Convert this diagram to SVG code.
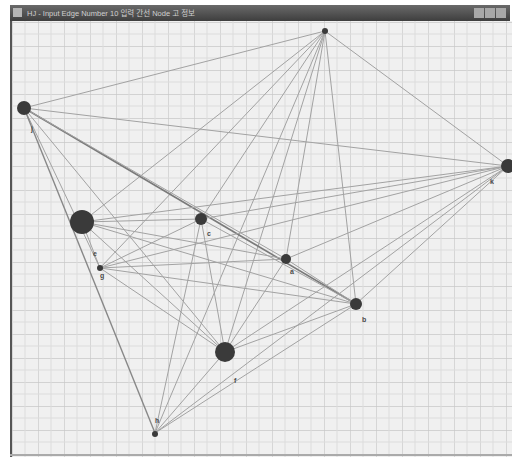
<svg xmlns="http://www.w3.org/2000/svg" width="512" height="457" viewBox="0 0 512 457">
<defs>
<pattern id="grid" x="12" y="22" width="26" height="24" patternUnits="userSpaceOnUse">
<rect width="26" height="24" fill="#f0f0f0"/>
<path d="M0 0V24M0 0H26" stroke="#c8c8c8" stroke-width="1.3" fill="none"/>
<path d="M13 0V24M0 12H26" stroke="#dcdcdc" stroke-width="1" fill="none"/>
</pattern>
<linearGradient id="tb" x1="0" y1="0" x2="0" y2="1">
<stop offset="0" stop-color="#6a6a6a"/>
<stop offset="1" stop-color="#3e3e3e"/>
</linearGradient>
</defs>
<style>
.e{stroke:#a2a2a2;stroke-width:1;fill:none}
.n{fill:#3a3a3a}
.l{font-family:"Liberation Sans",sans-serif;font-size:7px;font-weight:bold;fill:#4a4a4a}
.t{font-family:"Liberation Sans","Noto Sans CJK KR",sans-serif;font-size:7.5px;fill:#cfcfcf}
</style>
<rect width="512" height="457" fill="#ffffff"/>
<g id="window">
<rect x="10" y="21" width="502" height="436" fill="url(#grid)"/>
<line x1="11" y1="21" x2="11" y2="457" stroke="#555" stroke-width="2"/>
<line x1="10" y1="455" x2="512" y2="455" stroke="#aaa" stroke-width="2"/>
<rect x="10" y="5" width="500" height="16" fill="url(#tb)"/>
<rect x="13" y="8" width="9" height="9" fill="#b5b5b5"/>
<text class="t" x="27" y="16">HJ - Input Edge Number 10 입력 간선 Node 고 정보</text>
<rect x="474" y="8" width="10" height="10" fill="#a8a8a8"/>
<rect x="485" y="8" width="10" height="10" fill="#a8a8a8"/>
<rect x="496" y="8" width="10" height="10" fill="#a8a8a8"/>
</g>
<g id="edges">
<line class="e" x1="325" y1="31" x2="24" y2="108"/>
<line class="e" x1="325" y1="31" x2="508" y2="166"/>
<line class="e" x1="325" y1="31" x2="82" y2="222"/>
<line class="e" x1="325" y1="31" x2="100" y2="268"/>
<line class="e" x1="325" y1="31" x2="201" y2="219"/>
<line class="e" x1="325" y1="31" x2="286" y2="259"/>
<line class="e" x1="325" y1="31" x2="356" y2="304"/>
<line class="e" x1="325" y1="31" x2="225" y2="352"/>
<line class="e" x1="325" y1="31" x2="155" y2="433"/>
<line class="e" x1="24" y1="108" x2="508" y2="166"/>
<line class="e" x1="24" y1="108" x2="356" y2="304" style="stroke:#7a7a7a;stroke-width:1.6"/>
<line class="e" x1="24" y1="108" x2="286" y2="259"/>
<line class="e" x1="24" y1="108" x2="100" y2="268"/>
<line class="e" x1="24" y1="108" x2="155" y2="433" style="stroke:#888;stroke-width:1.4"/>
<line class="e" x1="24" y1="108" x2="225" y2="352"/>
<line class="e" x1="508" y1="166" x2="82" y2="222"/>
<line class="e" x1="508" y1="166" x2="100" y2="268"/>
<line class="e" x1="508" y1="166" x2="201" y2="219"/>
<line class="e" x1="508" y1="166" x2="286" y2="259"/>
<line class="e" x1="508" y1="166" x2="356" y2="304"/>
<line class="e" x1="508" y1="166" x2="225" y2="352"/>
<line class="e" x1="508" y1="166" x2="155" y2="433"/>
<line class="e" x1="82" y1="222" x2="201" y2="219"/>
<line class="e" x1="82" y1="222" x2="286" y2="259"/>
<line class="e" x1="82" y1="222" x2="356" y2="304"/>
<line class="e" x1="82" y1="222" x2="225" y2="352"/>
<line class="e" x1="82" y1="222" x2="100" y2="268"/>
<line class="e" x1="100" y1="268" x2="201" y2="219"/>
<line class="e" x1="100" y1="268" x2="286" y2="259"/>
<line class="e" x1="100" y1="268" x2="356" y2="304"/>
<line class="e" x1="100" y1="268" x2="225" y2="352"/>
<line class="e" x1="201" y1="219" x2="356" y2="304"/>
<line class="e" x1="201" y1="219" x2="225" y2="352"/>
<line class="e" x1="201" y1="219" x2="155" y2="433"/>
<line class="e" x1="286" y1="259" x2="356" y2="304"/>
<line class="e" x1="286" y1="259" x2="225" y2="352"/>
<line class="e" x1="356" y1="304" x2="225" y2="352"/>
<line class="e" x1="356" y1="304" x2="155" y2="433"/>
<line class="e" x1="225" y1="352" x2="155" y2="433"/>
</g>
<g id="node-a"><circle class="n" cx="325" cy="31" r="3"/></g>
<g id="node-j"><circle class="n" cx="24" cy="108" r="7"/><text class="l" x="31" y="131">j</text></g>
<g id="node-k"><circle class="n" cx="508" cy="166" r="7"/><text class="l" x="490" y="184">k</text></g>
<g id="node-e"><circle class="n" cx="82" cy="222" r="12"/><text class="l" x="93" y="256">e</text></g>
<g id="node-g"><circle class="n" cx="100" cy="268" r="3"/><text class="l" x="100" y="278">g</text></g>
<g id="node-c"><circle class="n" cx="201" cy="219" r="6"/><text class="l" x="207" y="236">c</text></g>
<g id="node-a2"><circle class="n" cx="286" cy="259" r="5"/><text class="l" x="290" y="274">a</text></g>
<g id="node-b"><circle class="n" cx="356" cy="304" r="6"/><text class="l" x="362" y="322">b</text></g>
<g id="node-f"><circle class="n" cx="225" cy="352" r="10"/><text class="l" x="234" y="383">f</text></g>
<g id="node-h"><circle class="n" cx="155" cy="434" r="3"/><text class="l" x="155" y="423">h</text></g>
</svg>
